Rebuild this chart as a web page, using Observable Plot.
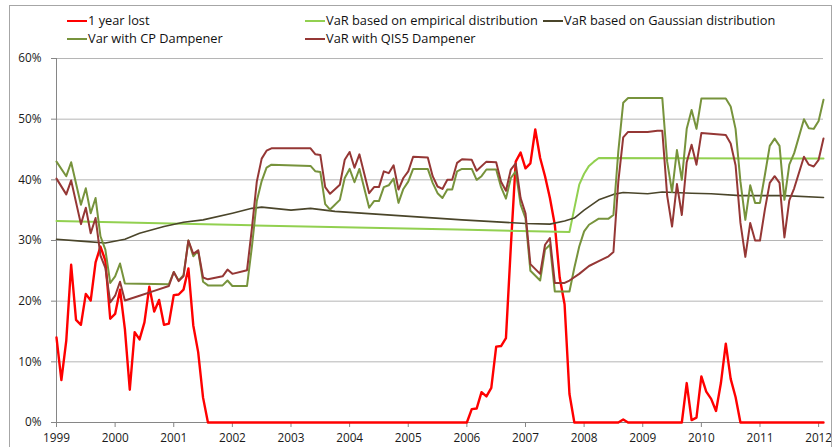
<!DOCTYPE html>
<html><head><meta charset="utf-8">
<script src="https://cdn.jsdelivr.net/npm/d3@7"></script>
<script src="https://cdn.jsdelivr.net/npm/@observablehq/plot@0.6"></script>
<style>
body{margin:0;background:#fff;font-family:"Open Sans",sans-serif;}
#wrap{position:relative;width:834px;height:447px;overflow:hidden;background:#fff;}
#frame{position:absolute;left:9px;top:5px;width:823px;height:480px;border:1px solid #A6A6A6;box-sizing:border-box;}
#legend{position:relative;height:47px;}
.item{position:absolute;font-size:12.8px;color:#111;white-space:nowrap;line-height:16px;}
.sw{position:absolute;left:0;top:8px;width:20px;height:2px;}
.tx{position:absolute;left:21px;top:0;}
#chart svg{display:block;}
</style></head><body>
<div id="wrap"><div id="frame"></div><div id="legend"></div><div id="chart"></div></div>
<script>
// months counted from Jan 1999 (0) ; values in %
const yearTicks = d3.range(1999, 2013);
const yTicks = [0, 10, 20, 30, 40, 50, 60];
const seriesNames = ["1 year lost", "VaR based on empirical distribution", "VaR based on Gaussian distribution", "Var with CP Dampener", "VaR with QIS5 Dampener"];

const oneYearLost = [[0,14.0],[1,7.0],[2,13.5],[3,26.0],[4,16.9],[5,16.1],[6,21.2],[7,20.1],[8,26.4],[9,29.0],[10,26.7],[11,17.1],[12,17.9],[13,21.9],[14,15.4],[15,5.4],[16,14.9],[17,13.7],[18,16.5],[19,22.4],[20,18.3],[21,20.2],[22,16.1],[23,16.3],[24,21.0],[25,21.1],[26,21.9],[27,25.4],[28,16.0],[29,11.6],[30,4.1],[31,0],
[84,0],[85,2.2],[86,2.3],[87,5.0],[88,4.3],[89,5.7],[90,12.5],[91,12.6],[92,13.9],[93,29.0],[94,43.0],[95,44.5],[96,41.9],[97,42.7],[98,48.3],[99,43.6],[100,40.6],[101,37.0],[102,32.6],[103,23.9],[104,19.5],[105,4.7],[106,0],
[115,0],[116,0.5],[117,0],[128,0],[129,6.5],[130,0.4],[131,0.8],[132,7.6],[133,5.1],[134,3.9],[135,1.9],[136,6.5],[137,13.0],[138,7.2],[139,4.2],[140,0],[157,0]];

const varEmpirical = [[0,33.2],[40,32.5],[82,31.8],[105,31.4],[106,35.3],[107,39.2],[108,41.0],[109,42.3],[110,43.0],[111,43.6],[157,43.5]];

const varGaussian = [[0,30.2],[5,29.9],[10,29.6],[14,30.2],[17,31.2],[22,32.3],[26,33.0],[30,33.4],[36,34.5],[40,35.3],[42,35.5],[48,35.0],[52,35.3],[57,34.8],[70,34.1],[83,33.4],[96,32.8],[101,32.7],[104,33.2],[106,33.7],[108,35.0],[111,36.7],[114,37.6],[116,37.9],[121,37.7],[124,38.0],[130,37.8],[134,37.7],[140,37.4],[149,37.4],[157,37.1]];

const varCP = [[0,43.0],[2,40.6],[3,42.9],[5,35.9],[6,38.6],[7,34.5],[8,37.0],[9,30.7],[10,28.5],[11,23.0],[12,24.1],[13,26.2],[14,22.9],[23,22.8],[24,24.8],[25,23.4],[26,24.3],[27,30.0],[28,27.4],[29,28.3],[30,23.2],[31,22.6],[34,22.6],[35,23.4],[36,22.5],[39,22.5],[40,29.0],[41,36.5],[42,39.8],[43,42.0],[44,42.5],[52,42.3],[53,41.4],[54,41.3],[55,36.0],[56,35.1],[58,36.7],[59,40.3],[60,41.8],[61,39.6],[62,41.8],[64,35.4],[65,36.5],[66,36.5],[67,38.8],[68,39.1],[69,40.2],[70,36.2],[71,38.5],[72,39.7],[73,41.8],[76,41.8],[77,39.5],[78,37.8],[79,37.0],[80,38.4],[81,38.4],[82,41.4],[83,41.8],[85,41.8],[86,40.0],[87,40.6],[88,41.7],[90,41.7],[91,38.8],[92,36.9],[93,40.3],[94,41.4],[95,35.9],[96,33.7],[97,25.0],[99,23.4],[100,28.5],[101,29.3],[102,21.6],[105,21.6],[106,25.5],[107,29.0],[108,31.5],[109,32.6],[111,33.6],[113,33.6],[114,34.2],[115,44.7],[116,52.7],[117,53.5],[124,53.5],[125,43.0],[126,38.0],[127,44.9],[128,40.0],[129,48.4],[130,51.5],[131,48.4],[132,53.4],[137,53.4],[138,52.1],[139,48.4],[140,39.7],[141,33.4],[142,39.1],[143,36.2],[144,36.2],[145,40.8],[146,45.6],[147,46.8],[148,45.6],[149,36.7],[150,42.5],[151,44.4],[153,50.0],[154,48.5],[155,48.4],[156,49.7],[157,53.2]];

const varQIS5 = [[0,40.2],[2,37.6],[3,39.9],[5,32.7],[6,35.4],[7,31.2],[8,33.7],[9,27.5],[10,25.5],[11,19.8],[12,20.9],[13,23.2],[14,20.1],[17,20.9],[20,21.7],[23,22.5],[24,24.8],[25,23.3],[26,24.1],[27,30.0],[28,27.8],[29,28.4],[30,23.9],[31,23.6],[34,24.1],[35,25.2],[36,24.5],[39,25.1],[40,32.0],[41,39.7],[42,43.5],[43,44.8],[44,45.2],[52,45.2],[53,44.2],[54,44.1],[55,38.8],[56,37.7],[58,39.2],[59,43.3],[60,44.6],[61,42.0],[62,44.2],[64,37.8],[65,38.8],[66,38.8],[67,41.4],[68,41.1],[69,42.4],[70,38.4],[71,40.3],[72,41.4],[73,43.8],[76,43.7],[77,40.6],[78,38.9],[79,38.5],[80,40.0],[81,40.0],[82,42.8],[83,43.4],[85,43.3],[86,41.5],[88,43.0],[90,42.9],[91,39.7],[92,38.2],[93,41.7],[94,42.7],[95,37.0],[96,34.5],[97,26.1],[99,24.5],[100,29.3],[101,30.4],[102,23.0],[104,23.0],[105,23.4],[107,24.5],[109,25.8],[111,26.6],[113,27.4],[114,28.1],[115,39.7],[116,47.0],[117,47.9],[121,47.9],[123,48.1],[124,48.1],[125,37.4],[126,32.3],[127,39.3],[128,34.2],[129,42.9],[130,45.8],[131,42.5],[132,47.7],[137,47.4],[138,46.0],[139,42.4],[140,32.9],[141,27.3],[142,32.9],[143,30.0],[144,30.0],[145,35.1],[146,39.5],[147,40.6],[148,39.5],[149,30.5],[150,36.6],[151,38.6],[153,43.8],[154,42.5],[155,42.2],[156,43.3],[157,46.8]];

const colors = ["#FF0000", "#92D050", "#4A452A", "#77933C", "#953735"];
const widths = [2.4, 2, 1.6, 2, 2];
const allSeries = [oneYearLost, varEmpirical, varGaussian, varCP, varQIS5];

const toYear = m => 1999 + m / 12;
const rows = allSeries.flatMap((s, i) => s.map(([m, v]) => ({series: i, x: toYear(m), y: v})));

// legend
const legendPos = [[67, 12], [305, 12], [543, 12], [67, 30], [305, 30]];
const leg = document.getElementById("legend");
seriesNames.forEach((name, i) => {
  const d = document.createElement("div");
  d.className = "item";
  d.style.left = legendPos[i][0] + "px";
  d.style.top = legendPos[i][1] + "px";
  d.innerHTML = `<span class="sw" style="background:${colors[i]}"></span><span class="tx"></span>`;
  d.querySelector(".tx").textContent = name;
  leg.appendChild(d);
});

const marks = [
  Plot.gridY(yTicks.filter(t => t > 0), {stroke: "#B5B5B5", strokeOpacity: 1}),
  Plot.ruleY([0], {stroke: "#868686"}),
  Plot.ruleX([1999], {stroke: "#868686"}),
  Plot.axisY(yTicks, {tickFormat: d => d + "%", tickSize: 5, tickPadding: 10, stroke: "#868686", fill: "#1a1a1a", label: null}),
  Plot.axisX(yearTicks, {tickFormat: d => String(d), tickSize: 5, tickPadding: 6, stroke: "#868686", fill: "#1a1a1a", label: null})
];
allSeries.forEach((s, i) => {
  marks.push(Plot.line(rows.filter(r => r.series === i), {x: "x", y: "y", stroke: colors[i], strokeWidth: widths[i], strokeLinejoin: "round"}));
});

const chart = Plot.plot({
  width: 834,
  height: 400,
  marginLeft: 56,
  marginRight: 11,
  marginTop: 11,
  marginBottom: 25,
  style: {fontFamily: "Open Sans", fontSize: "11.8px", background: "transparent", overflow: "visible"},
  x: {domain: [1999, toYear(157)]},
  y: {domain: [0, 60]},
  marks
});
document.getElementById("chart").appendChild(chart);
</script>
</body></html>
